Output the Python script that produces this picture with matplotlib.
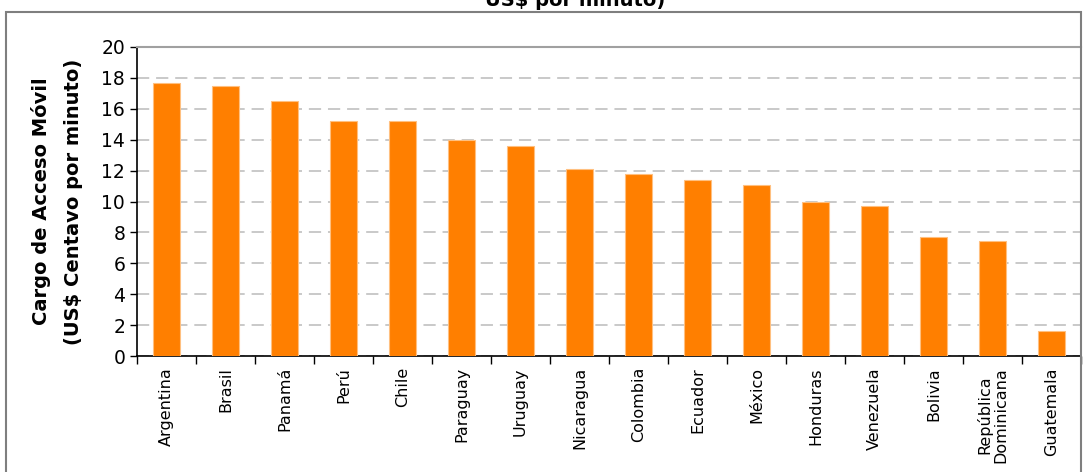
import numpy as np
import matplotlib
matplotlib.use("Agg")
import matplotlib.pyplot as plt
from matplotlib.patches import Rectangle

# Data
paises = ["Argentina", "Brasil", "Panamá", "Perú", "Chile", "Paraguay",
          "Uruguay", "Nicaragua", "Colombia", "Ecuador", "México", "Honduras",
          "Venezuela", "Bolivia", "República\nDominicana", "Guatemala"]
cargo = [17.7, 17.5, 16.5, 15.2, 15.2, 14.0, 13.6, 12.1, 11.8, 11.4,
         11.1, 10.0, 9.7, 7.7, 7.45, 1.6]
yticks = list(range(0, 21, 2))

fig = plt.figure(figsize=(10.84, 4.72), dpi=100)
ax = fig.add_axes([137 / 1084, 1 - 356 / 472, (1081 - 137) / 1084, (356 - 47) / 472])

x = np.arange(len(paises))
ax.bar(x, cargo, width=0.45, color="#FF7F00", edgecolor="#FFC080",
       linewidth=0.8, zorder=3)

ax.set_xlim(-0.5, len(paises) - 0.5)
ax.set_ylim(0, 20)
ax.set_yticks(yticks)
ax.tick_params(axis="y", labelsize=13.5, length=5, direction="out", width=1)

# ticks between categories, labels at centers
ax.set_xticks(np.arange(-0.5, len(paises), 1.0))
ax.set_xticklabels([])
ax.tick_params(axis="x", which="major", length=6, width=1, direction="out")
ax.set_xticks(x, minor=True)
ax.set_xticklabels(paises, minor=True, rotation=90, fontsize=11.5,
                   linespacing=1.1)
ax.tick_params(axis="x", which="minor", length=0, pad=8)

ax.grid(axis="y", color="#BBBBBB", linestyle=(0, (8, 4.5)), linewidth=1.1,
        zorder=0)

ax.spines["left"].set_linewidth(1.2)
ax.spines["bottom"].set_linewidth(1.2)
ax.spines["top"].set_color("#A0A0A0")
ax.spines["top"].set_linewidth(1.5)
ax.spines["right"].set_visible(False)

ax.set_ylabel("Cargo de Acceso Móvil\n(US$ Centavo por minuto)",
              fontsize=14, fontweight="bold", linespacing=1.9, labelpad=13)

# outer frame of the chart
fig.patches.append(Rectangle((6 / 1084, -0.05), (1081 - 6) / 1084, 1.05 - 12 / 472,
                             transform=fig.transFigure, fill=False,
                             edgecolor="#7F7F7F", linewidth=1.5))

fig.text(575 / 1084, 1 - 0 / 472, "US$ por minuto)", ha="center", va="center",
         fontsize=14, fontweight="bold")

fig.savefig("out.png", dpi=100)
